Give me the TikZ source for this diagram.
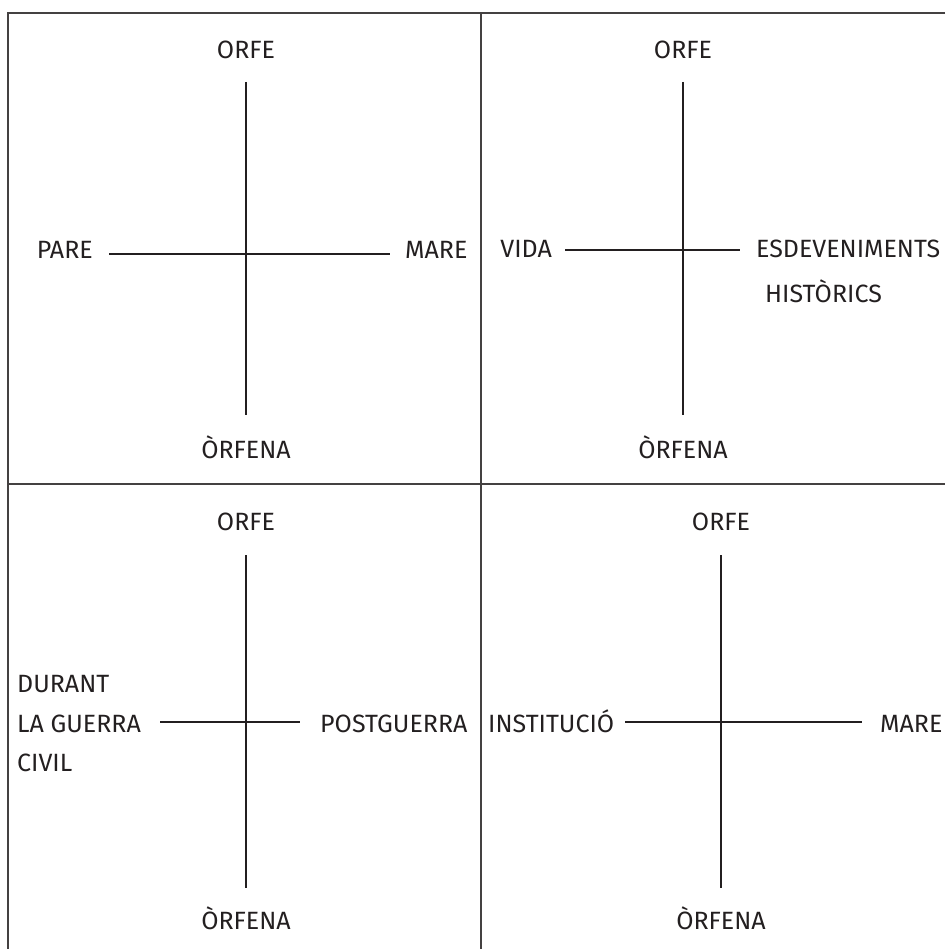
\documentclass[tikz,border=0pt]{standalone}
\usepackage{fontspec}
\setmainfont{Fira Sans}
\definecolor{ink}{HTML}{231F20}
\begin{document}
\begin{tikzpicture}[x=1pt,y=-1pt,
  lab/.style={font=\fontsize{25}{25}\selectfont, text=ink, inner sep=0pt},
  axisline/.style={draw=ink, line width=2.9pt},
  frameline/.style={draw=ink!85, line width=2pt}]
\useasboundingbox (0,0) rectangle (945,949);
% frame
\draw[frameline] (945,13) -- (8,13) -- (8,949);
\draw[frameline] (481,13) -- (481,949);
\draw[frameline] (8,484) -- (945,484);

% panel 1
\node[lab, anchor=base] (o1) at (246,59) {ORFE};
\node[lab, anchor=base] (f1) at (246,458) {ÒRFENA};
\node[lab, anchor=base east] (p1) at (93,259) {PARE};
\node[lab, anchor=base west] (m1) at (405,259) {MARE};
\coordinate (t1) at (246,82); \coordinate (b1) at (246,415);
\coordinate (l1) at (109,254); \coordinate (r1) at (390,254);
\draw[axisline] (t1) -- (b1);
\draw[axisline] (l1) -- (r1);

% panel 2
\node[lab, anchor=base] (o2) at (683,59) {ORFE};
\node[lab, anchor=base] (f2) at (683,458) {ÒRFENA};
\node[lab, anchor=base east] (v2) at (552,258) {VIDA};
\node[lab, anchor=base west] (e2) at (756,258) {ESDEVENIMENTS};
\node[lab, anchor=base west] (h2) at (765,302) {HISTÒRICS};
\coordinate (t2) at (683,82); \coordinate (b2) at (683,415);
\coordinate (l2) at (565,250); \coordinate (r2) at (740,250);
\draw[axisline] (t2) -- (b2);
\draw[axisline] (l2) -- (r2);

% panel 3
\node[lab, anchor=base] (o3) at (246,530) {ORFE};
\node[lab, anchor=base] (f3) at (246,929) {ÒRFENA};
\node[lab, anchor=base west] (d3a) at (17,692) {DURANT};
\node[lab, anchor=base west] (d3b) at (17,732) {LA GUERRA};
\node[lab, anchor=base west] (d3c) at (17,771) {CIVIL};
\node[lab, anchor=base west] (p3) at (320,732) {POSTGUERRA};
\coordinate (t3) at (246,555); \coordinate (b3) at (246,888);
\coordinate (l3) at (160,722); \coordinate (r3) at (300,722);
\draw[axisline] (t3) -- (b3);
\draw[axisline] (l3) -- (r3);

% panel 4
\node[lab, anchor=base] (o4) at (721,530) {ORFE};
\node[lab, anchor=base] (f4) at (721,929) {ÒRFENA};
\node[lab, anchor=base west] (i4) at (488,732) {INSTITUCIÓ};
\node[lab, anchor=base west] (m4) at (880,732) {MARE};
\coordinate (t4) at (721,555); \coordinate (b4) at (721,888);
\coordinate (l4) at (625,722); \coordinate (r4) at (862,722);
\draw[axisline] (t4) -- (b4);
\draw[axisline] (l4) -- (r4);
\end{tikzpicture}
\end{document}
